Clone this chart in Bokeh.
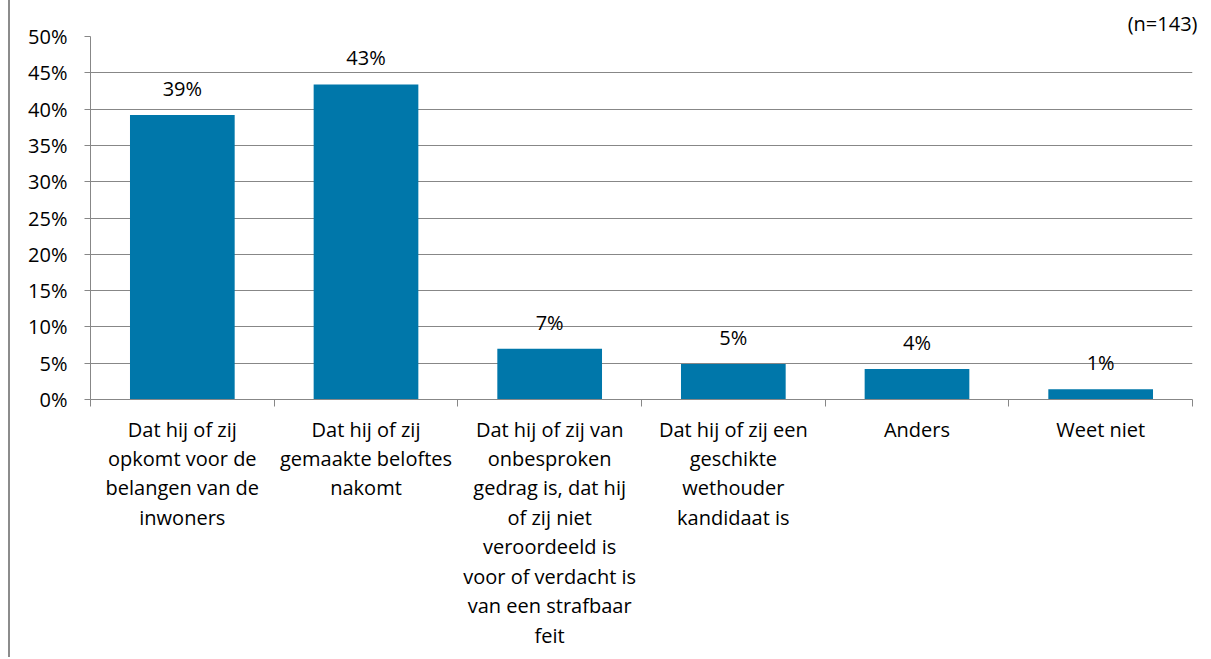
from bokeh.plotting import figure
from bokeh.models import ColumnDataSource, FixedTicker, NumeralTickFormatter, Range1d
from bokeh.core.properties import value
from bokeh.embed import file_html
from bokeh.resources import INLINE

categories = [
    "Dat hij of zij\nopkomt voor de\nbelangen van de\ninwoners",
    "Dat hij of zij\ngemaakte beloftes\nnakomt",
    "Dat hij of zij van\nonbesproken\ngedrag is, dat hij\nof zij niet\nveroordeeld is\nvoor of verdacht is\nvan een strafbaar\nfeit",
    "Dat hij of zij een\ngeschikte\nwethouder\nkandidaat is",
    "Anders",
    "Weet niet",
]
values = [0.392, 0.434, 0.070, 0.049, 0.042, 0.014]
value_labels = ["39%", "43%", "7%", "5%", "4%", "1%"]
y_ticks = [0, 0.05, 0.10, 0.15, 0.20, 0.25, 0.30, 0.35, 0.40, 0.45, 0.50]
n_note = "(n=143)"

FONT = "Open Sans"
FS = "20px"
BAR = "#0077AA"
GRID = "#878787"

n = len(categories)
xs = [i + 0.5 for i in range(n)]
src = ColumnDataSource(dict(x=xs, top=values, lab=value_labels))

p = figure(frame_width=1102, frame_height=363, output_backend="svg",
           toolbar_location=None,
           x_range=Range1d(0, n), y_range=Range1d(0, 0.5),
           min_border_left=80, min_border_right=11, min_border_top=36,
           min_border_bottom=258, title=n_note)
p.outline_line_color = None
p.background_fill_color = "white"
p.border_fill_color = "white"
p.styles = {"border-left": "2px solid #8c8c8c", "margin-left": "8px"}

p.title.align = "right"
p.title.text_font = FONT
p.title.text_font_size = FS
p.title.text_font_style = "normal"
p.title.text_color = "black"
p.title.standoff = 0
p.title.offset = -5

p.vbar(x="x", top="top", width=0.57, source=src, color=BAR, line_color=None)

p.text(x="x", y="top", text="lab", source=src, text_align="center",
       text_baseline="bottom", y_offset=-13, text_font=value(FONT),
       text_font_size=FS, text_color="black")

# y axis
p.yaxis.ticker = FixedTicker(ticks=y_ticks)
p.yaxis.formatter = NumeralTickFormatter(format="0%")
p.yaxis.major_label_text_font = FONT
p.yaxis.major_label_text_font_size = FS
p.yaxis.major_label_text_color = "black"
p.yaxis.axis_line_color = GRID
p.yaxis.major_tick_line_color = GRID
p.yaxis.major_tick_out = 6
p.yaxis.major_tick_in = 0
p.yaxis.minor_tick_line_color = None
p.yaxis.major_label_standoff = 17

# x axis: labels at category centres, tick marks at category boundaries
p.xaxis.ticker = FixedTicker(ticks=xs, minor_ticks=list(range(n + 1)))
p.xaxis.major_label_overrides = {x: c for x, c in zip(xs, categories)}
p.xaxis.major_label_text_font = FONT
p.xaxis.major_label_text_font_size = FS
p.xaxis.major_label_text_color = "black"
p.xaxis.major_label_text_line_height = 1.09
p.xaxis.major_label_text_align = "center"
p.xaxis.major_label_standoff = 9
p.xaxis.axis_line_color = GRID
p.xaxis.major_tick_line_color = None
p.xaxis.major_tick_out = 0
p.xaxis.major_tick_in = 0
p.xaxis.minor_tick_line_color = GRID
p.xaxis.minor_tick_out = 7
p.xaxis.minor_tick_in = 0

p.xgrid.grid_line_color = None
p.ygrid.grid_line_color = GRID
p.ygrid.grid_line_width = 1

open("out.html", "w").write(file_html(p, INLINE))
